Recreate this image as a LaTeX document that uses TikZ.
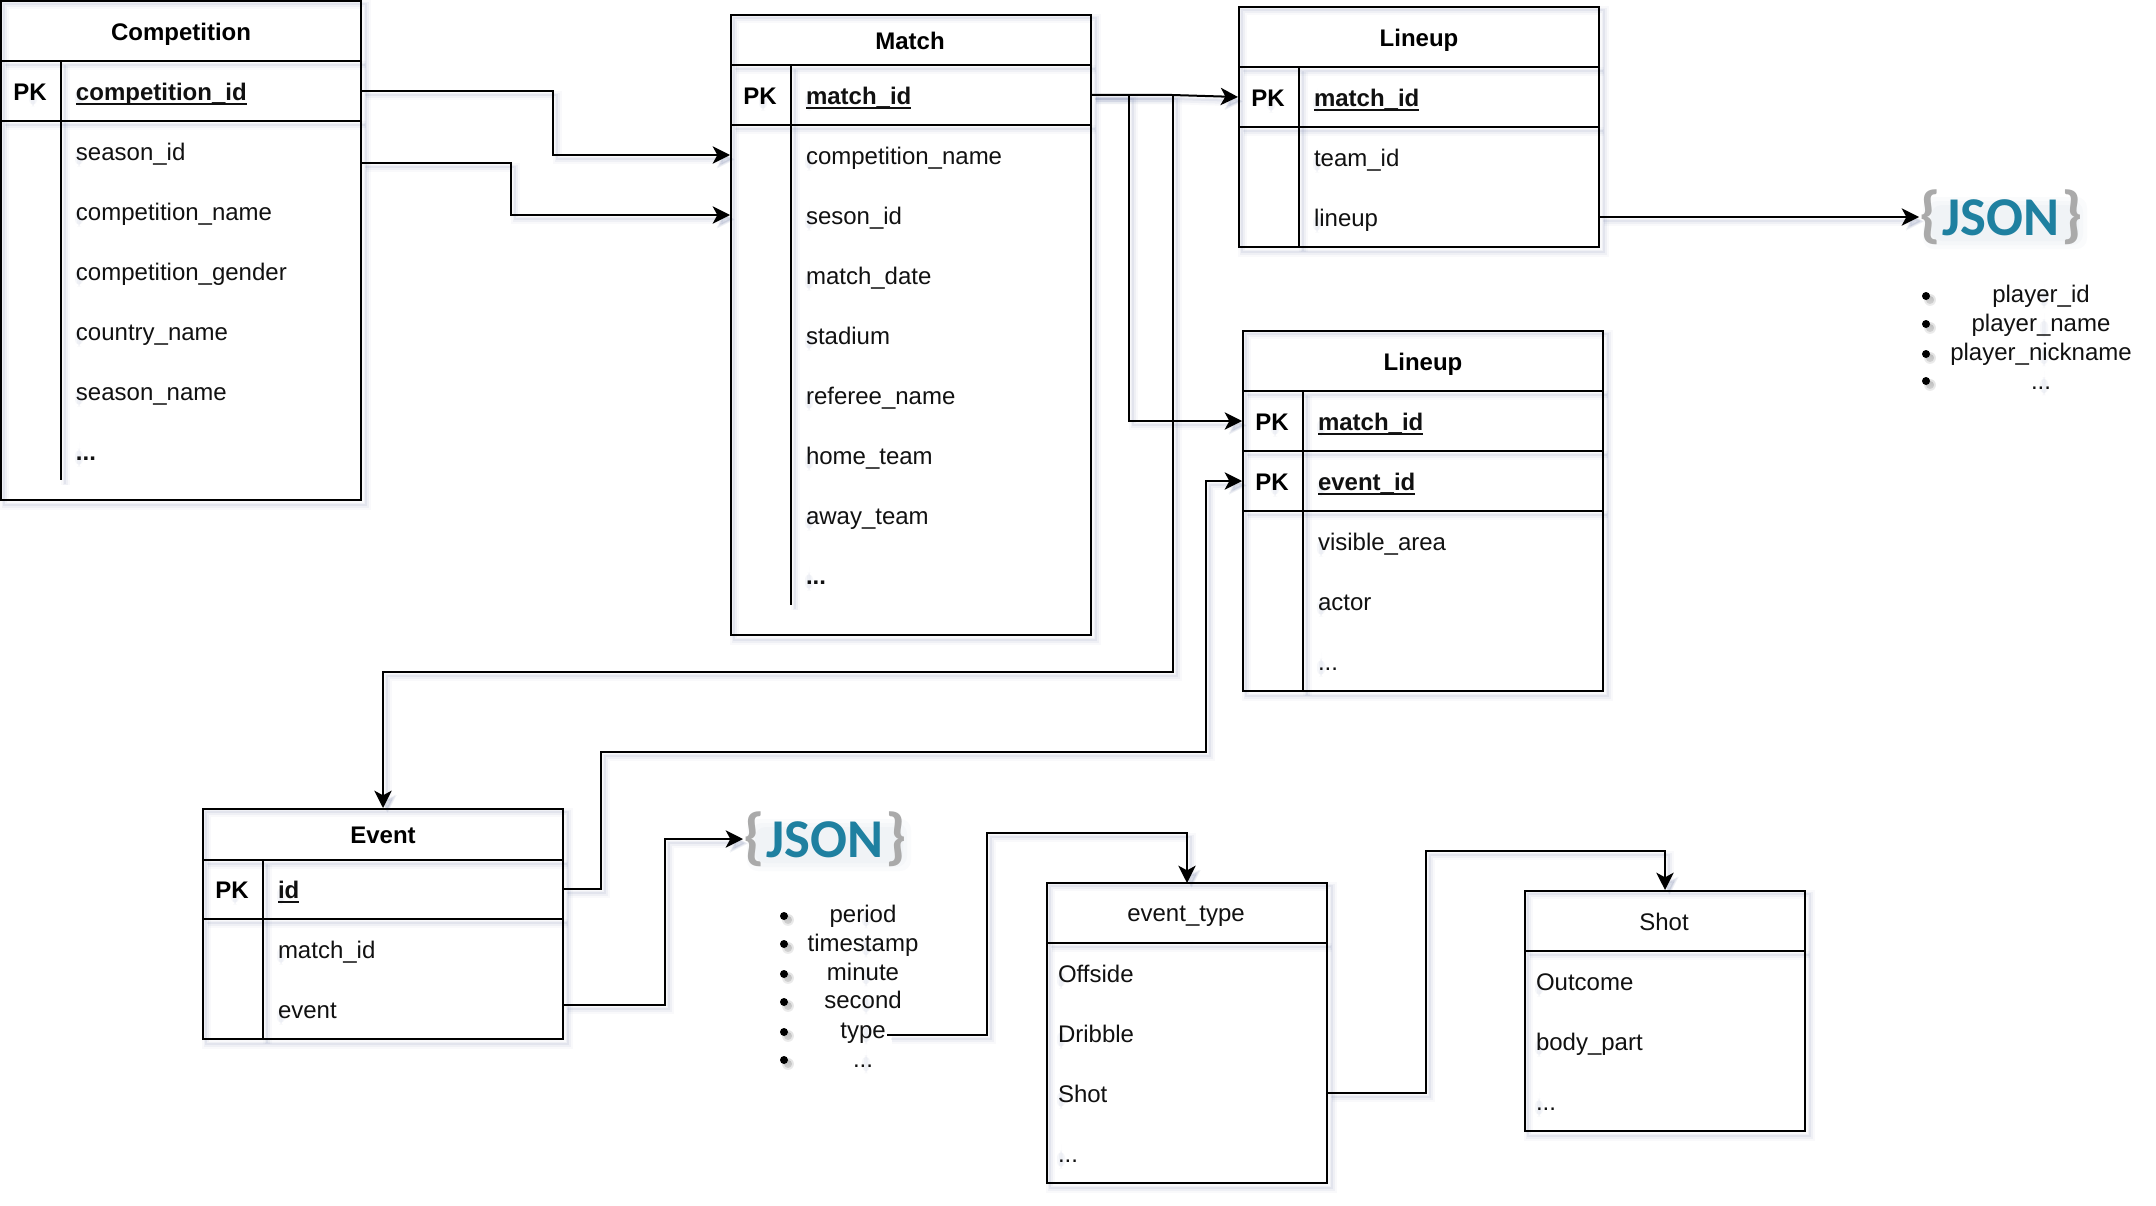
\documentclass[tikz,border=0pt]{standalone}
\usepackage{fontspec}
\setmainfont{Liberation Sans}
\newfontfamily\jsonfont{Carlito}
\usetikzlibrary{arrows.meta,fit,calc}
\pgfdeclarelayer{bg}
\pgfsetlayers{bg,main}
\definecolor{shade}{HTML}{5F6F9F}
\definecolor{ink}{HTML}{111111}
\definecolor{jsonteal}{HTML}{1F80A0}
\definecolor{jsongray}{HTML}{AAAAAA}
\tikzset{
  basefont/.style={font=\fontsize{18}{21}\selectfont, text=ink, inner sep=0pt},
  hdrtxt/.style={basefont, font=\fontsize{18}{21}\selectfont\bfseries, text=black},
  hdrplain/.style={basefont},
  rowtxt/.style={basefont, align=left, text height=18pt, text depth=4pt},
  listtxt/.style={basefont, text height=16pt, text depth=4pt},
  pktxt/.style={hdrtxt, text height=18pt, text depth=4pt},
  jsontxt/.style={inner sep=0pt, font=\jsonfont\fontsize{41}{46}\selectfont\bfseries, text=jsonteal},
  line/.style={draw=black, line width=1.5pt},
  arr/.style={-{Stealth[length=13pt,width=13pt,inset=3.5pt]}},
  bull/.style={fill=black},
  softA/.style={draw=shade, line width=7pt, opacity=.035, transform canvas={xshift=3.5pt,yshift=-3.5pt}},
  softB/.style={draw=shade, line width=4pt, opacity=.06, transform canvas={xshift=3.5pt,yshift=-3.5pt}},
  softC/.style={draw=shade, line width=1.5pt, opacity=.09, transform canvas={xshift=3pt,yshift=-3pt}},
  smudge/.style={fill=shade, opacity=.05, rounded corners=3pt},
  logosmudge/.style={fill=shade, opacity=.028, rounded corners=8pt},
}
\newsavebox\txtbox
% measure a text, width in px goes to \smW
\newcommand\measure[1]{%
  \sbox\txtbox{\fontsize{18}{21}\selectfont #1}%
  \pgfmathsetmacro\smW{\the\wd\txtbox/0.75}}
% soft shadow under a text: left x, centre y, height, width (px)
\newcommand\smudgeat[4]{%
  \begin{pgfonlayer}{bg}
    \foreach \ins in {0,2,4}{
      \fill[smudge] (#1+\ins,#2-#3/2+\ins) rectangle (#1+#4-\ins,#2+#3/2-\ins);
    }
  \end{pgfonlayer}}
% a line with its soft drop shadow: #1 options, #2 path
\newcommand\liner[2]{%
  \begin{pgfonlayer}{bg}
    \draw[softA,#1] #2;
    \draw[softB,#1] #2;
    \draw[softC,#1] #2;
  \end{pgfonlayer}
  \draw[line,#1] #2;}
% table frame: name,x0,y0,x1,y1
\newcommand\tframe[5]{%
  \coordinate (#1-a) at (#2,#3);
  \coordinate (#1-b) at (#4,#5);
  \node[fit=(#1-a)(#1-b), inner sep=0pt, line, rectangle] (#1) {};
  \begin{pgfonlayer}{bg}
    \draw[softA] (#1.north west) rectangle (#1.south east);
    \draw[softB] (#1.north west) rectangle (#1.south east);
    \draw[softC] (#1.north west) rectangle (#1.south east);
  \end{pgfonlayer}}
% row: name,x0,x1,indent,y,text
\newcommand\rowt[6]{%
  \pgfmathsetmacro\rowW{(#3-#2)*0.75}%
  \pgfmathsetmacro\rowC{(#2+#3)/2}%
  \pgfmathsetmacro\rowI{#4*0.75}%
  \measure{#6}%
  \pgfmathsetmacro\smX{#2+#4+3}%
  \pgfmathsetmacro\smY{#5+6.5}%
  \smudgeat{\smX}{\smY}{22}{\smW}
  \node[rowtxt, text width=\rowW pt] (#1) at (\rowC,#5) {\hspace*{\rowI pt}#6};}
\newcommand\pkt[3]{%
  \measure{\bfseries PK}%
  \pgfmathsetmacro\smX{#2-\smW/2+3}%
  \pgfmathsetmacro\smY{#3+6.5}%
  \smudgeat{\smX}{\smY}{22}{\smW}
  \node[pktxt] (#1) at (#2,#3) {PK};}
\newcommand\pkname[1]{{\bfseries\setbox0\hbox{#1}\rlap{\rule[-3.4pt]{\wd0}{1.3pt}}\box0}}
% list item: name, centre x, y, text, bullet x, bullet y
\newcommand\litem[6]{%
  \measure{#4}%
  \pgfmathsetmacro\smX{#2-\smW/2+3}%
  \pgfmathsetmacro\smY{#3+5}%
  \smudgeat{\smX}{\smY}{22}{\smW}
  \begin{pgfonlayer}{bg}
    \fill[shade, opacity=.08] (#5+4,#6+4) circle (4.4pt);
    \fill[shade, opacity=.12] (#5+4,#6+4) circle (3pt);
  \end{pgfonlayer}
  \node[listtxt] (#1) at (#2,#3) {#4};
  \fill[bull] (#5,#6) circle (3pt);}
% json logo
\newcommand\jsonlogo[3]{%
  \pgfmathsetmacro\smX{#2+4}%
  \pgfmathsetmacro\smY{#3+6}%
  \begin{pgfonlayer}{bg}
    \foreach \ins in {0,4,8}{
      \fill[logosmudge] (\smX+\ins,\smY-26+\ins) rectangle (\smX+164-\ins,\smY+26-\ins);
    }
  \end{pgfonlayer}
  \node[jsontxt, anchor=west] (#1) at (#2,#3) {{\color{jsongray}\fontsize{47}{47}\selectfont\{}\kern1.5pt JSON\kern1.5pt{\color{jsongray}\fontsize{47}{47}\selectfont\}}};}
\begin{document}
\begin{tikzpicture}[x=0.75pt,y=-0.75pt]
\useasboundingbox (0,0) rectangle (2156,1206);
\begin{pgfonlayer}{bg}
  \fill[white] (0,0) rectangle (2156,1206);
\end{pgfonlayer}

% Competition
\tframe{comp}{1}{1}{361}{500}
\node[hdrtxt] (comph) at (181,34) {Competition};
\liner{}{(1,61) -- (361,61)}
\liner{}{(1,121) -- (361,121)}
\liner{}{(61,61) -- (61,480)}
\pkt{comppk}{30}{91}
\rowt{compid}{1}{361}{75}{91}{\pkname{competition\_id}}
\rowt{comp1}{1}{361}{75}{151}{season\_id}
\rowt{comp2}{1}{361}{75}{211}{competition\_name}
\rowt{comp3}{1}{361}{75}{271}{competition\_gender}
\rowt{comp4}{1}{361}{75}{331}{country\_name}
\rowt{comp5}{1}{361}{75}{391}{season\_name}
\rowt{comp6}{1}{361}{75}{451}{\bfseries ...}

% Match
\tframe{match}{731}{15}{1091}{635}
\node[hdrtxt] (matchh) at (910,41) {Match};
\liner{}{(731,65) -- (1091,65)}
\liner{}{(731,125) -- (1091,125)}
\liner{}{(791,65) -- (791,605)}
\pkt{matchpk}{760}{95}
\rowt{matchid}{731}{1091}{75}{95}{\pkname{match\_id}}
\rowt{match1}{731}{1091}{75}{155}{competition\_name}
\rowt{match2}{731}{1091}{75}{215}{seson\_id}
\rowt{match3}{731}{1091}{75}{275}{match\_date}
\rowt{match4}{731}{1091}{75}{335}{stadium}
\rowt{match5}{731}{1091}{75}{395}{referee\_name}
\rowt{match6}{731}{1091}{75}{455}{home\_team}
\rowt{match7}{731}{1091}{75}{515}{away\_team}
\rowt{match8}{731}{1091}{75}{575}{\bfseries ...}

% Lineup top
\tframe{lineA}{1239}{7}{1599}{247}
\node[hdrtxt] (lineAh) at (1419,40) {Lineup};
\liner{}{(1239,67) -- (1599,67)}
\liner{}{(1239,127) -- (1599,127)}
\liner{}{(1299,67) -- (1299,247)}
\pkt{lineApk}{1268}{97}
\rowt{lineAid}{1239}{1599}{75}{97}{\pkname{match\_id}}
\rowt{lineA1}{1239}{1599}{75}{157}{team\_id}
\rowt{lineA2}{1239}{1599}{75}{217}{lineup}

% Lineup lower
\tframe{lineB}{1243}{331}{1603}{691}
\node[hdrtxt] (lineBh) at (1423,364) {Lineup};
\liner{}{(1243,391) -- (1603,391)}
\liner{}{(1243,451) -- (1603,451)}
\liner{}{(1243,511) -- (1603,511)}
\liner{}{(1303,391) -- (1303,691)}
\pkt{lineBpka}{1272}{421}
\pkt{lineBpkb}{1272}{481}
\rowt{lineBid}{1243}{1603}{75}{421}{\pkname{match\_id}}
\rowt{lineBev}{1243}{1603}{75}{481}{\pkname{event\_id}}
\rowt{lineB1}{1243}{1603}{75}{541}{visible\_area}
\rowt{lineB2}{1243}{1603}{75}{601}{actor}
\rowt{lineB3}{1243}{1603}{75}{661}{...}

% Event
\tframe{event}{203}{809}{563}{1039}
\node[hdrtxt] (eventh) at (383,835) {Event};
\liner{}{(203,860) -- (563,860)}
\liner{}{(203,919) -- (563,919)}
\liner{}{(263,860) -- (263,1039)}
\pkt{eventpk}{232}{889}
\rowt{eventid}{203}{563}{75}{889}{\pkname{id}}
\rowt{event1}{203}{563}{75}{949}{match\_id}
\rowt{event2}{203}{563}{75}{1009}{event}

% event_type
\tframe{etype}{1047}{883}{1327}{1183}
\node[hdrplain] (etypeh) at (1186,916) {event\_type};
\liner{}{(1047,943) -- (1327,943)}
\rowt{etype1}{1047}{1327}{11}{973}{Offside}
\rowt{etype2}{1047}{1327}{11}{1033}{Dribble}
\rowt{etype3}{1047}{1327}{11}{1093}{Shot}
\rowt{etype4}{1047}{1327}{11}{1153}{...}

% Shot
\tframe{shot}{1525}{891}{1805}{1131}
\node[hdrplain] (shoth) at (1664,922) {Shot};
\liner{}{(1525,951) -- (1805,951)}
\rowt{shot1}{1525}{1805}{11}{981}{Outcome}
\rowt{shot2}{1525}{1805}{11}{1041}{body\_part}
\rowt{shot3}{1525}{1805}{11}{1101}{...}

% JSON logos and lists
\jsonlogo{jsonA}{1919}{217}
\litem{pa}{2041}{294}{player\_id}{1926}{296}
\litem{pb}{2041}{323}{player\_name}{1926}{324}
\litem{pc}{2041}{352}{player\_nickname}{1926}{354}
\litem{pd}{2041}{381}{...}{1926}{381}

\jsonlogo{jsonB}{743}{839}
\litem{ta}{863}{914}{period}{784}{916}
\litem{tb}{863}{943}{timestamp}{784}{944}
\litem{tc}{863}{972}{minute}{784}{974}
\litem{td}{863}{1000}{second}{784}{1002}
\litem{te}{863}{1030}{type}{784}{1032}
\litem{tf}{863}{1059}{...}{784}{1060}

% connector free ends
\coordinate (compout) at (361,163);
\coordinate (eventout) at (563,1005);
\coordinate (shotout) at (1327,1093);
\coordinate (typeout) at (887,1035);

% connectors
\liner{arr}{(compid.east) -| (553,120) |- (match.west |- match1)}
\liner{arr}{(compout) -| (511,180) |- (match.west |- match2)}
\liner{arr}{(matchid.east) -- (1172,95) -- (lineA.west |- lineAid)}
\liner{arr}{(matchid.east) -| (1129,300) |- (lineB.west |- lineBid)}
\liner{arr}{(matchid.east) -| (1173,500) -- (1173,672) -| (event.north)}
\liner{arr}{(eventid.east) -| (601,800) |- (1206,752) |- (lineB.west |- lineBev)}
\liner{arr}{(eventout) -| (665,900) |- (jsonB.west)}
\liner{arr}{(typeout) -| (987,900) |- (1187,833) -- (1187,883)}
\liner{arr}{(shotout) -| (1426,900) |- (1665,851) -- (shot.north)}
\liner{arr}{(lineA2.east) -- (jsonA.west)}
\end{tikzpicture}
\end{document}
